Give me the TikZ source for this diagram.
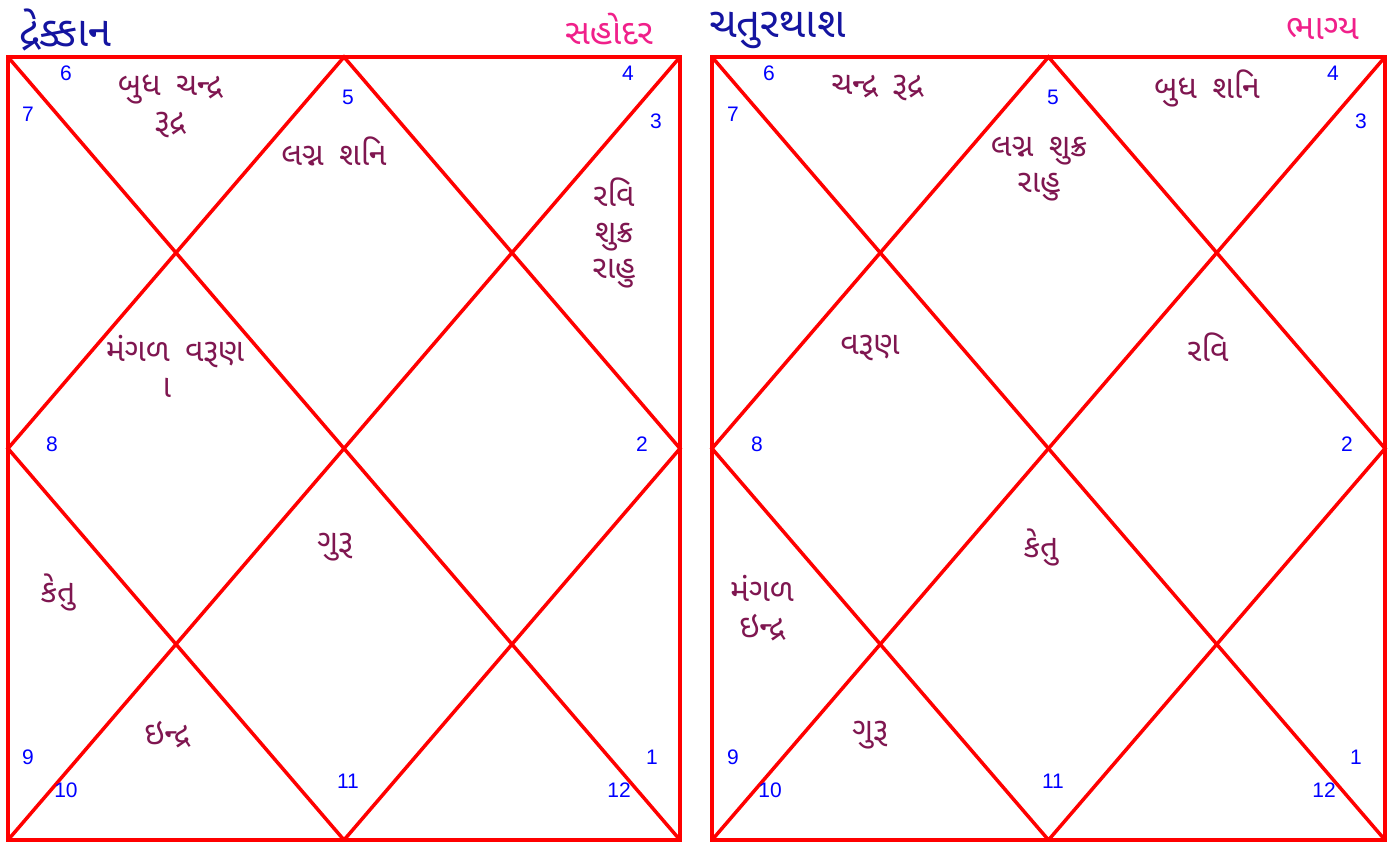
\documentclass[tikz,border=0pt]{standalone}
\usepackage{fontspec}
\usetikzlibrary{calc}
\setmainfont{Liberation Sans}
\newfontfamily\guj[Script=Gujarati,WordSpace=1.6]{Noto Sans Gujarati UI}
\definecolor{numblue}{HTML}{0000FF}
\definecolor{planetc}{HTML}{7F1650}
\definecolor{titleblue}{HTML}{1414A0}
\definecolor{titlepink}{HTML}{F0208A}
\begin{document}
\begin{tikzpicture}[x=1pt,y=-1pt,
  chartline/.style={draw=red,line width=3.5pt,line join=miter,line cap=round},
  num/.style={text=numblue,font=\fontsize{21}{21}\selectfont,inner sep=0pt},
  planet/.style={text=planetc,font=\guj\fontsize{32}{36}\selectfont,align=center,inner sep=0pt},
  ttlblue/.style={text=titleblue,font=\guj\fontsize{42}{42}\selectfont,inner sep=0pt,anchor=west},
  ttlpink/.style={text=titlepink,font=\guj\fontsize{35}{35}\selectfont,inner sep=0pt,anchor=east}]
\useasboundingbox (0,0) rectangle (1395,841);
% chart frames
\foreach \n/\xa/\xb in {L/8/680, R/712/1385}{
  \coordinate (\n tl) at (\xa,57);
  \coordinate (\n tr) at (\xb,57);
  \coordinate (\n br) at (\xb,840);
  \coordinate (\n bl) at (\xa,840);
  \coordinate (\n tm) at ($(\n tl)!0.5!(\n tr)$);
  \coordinate (\n bm) at ($(\n bl)!0.5!(\n br)$);
  \coordinate (\n lm) at ($(\n tl)!0.5!(\n bl)$);
  \coordinate (\n rm) at ($(\n tr)!0.5!(\n br)$);
  \draw[chartline] (\n tl) -- (\n tr) -- (\n br) -- (\n bl) -- cycle;
  \draw[chartline] (\n tl) -- (\n br);
  \draw[chartline] (\n tr) -- (\n bl);
  \draw[chartline] (\n tm) -- (\n rm) -- (\n bm) -- (\n lm) -- cycle;
}
% titles
\node[ttlblue] (t1) at (19,30) {દ્રેક્કાન};
\node[ttlpink] (t2) at (653,29) {સહોદર};
\node[ttlblue] (t3) at (709,30) {ચતુરથાશ};
\node[ttlpink] (t4) at (1359,29) {ભાગ્ય};
% house numbers, left chart
\node[num] (l6) at (66,73) {6};
\node[num] (l7) at (28,114) {7};
\node[num] (l5) at (348,97) {5};
\node[num] (l4) at (628,73) {4};
\node[num] (l3) at (656,121) {3};
\node[num] (l8) at (52,444) {8};
\node[num] (l2) at (642,444) {2};
\node[num] (l9) at (28,757) {9};
\node[num] (l10) at (66,790) {10};
\node[num] (l11) at (348,781) {11};
\node[num] (l12) at (619,790) {12};
\node[num] (l1) at (652,757) {1};
% house numbers, right chart
\node[num] (r6) at (769,73) {6};
\node[num] (r7) at (733,114) {7};
\node[num] (r5) at (1053,97) {5};
\node[num] (r4) at (1333,73) {4};
\node[num] (r3) at (1361,121) {3};
\node[num] (r8) at (757,444) {8};
\node[num] (r2) at (1347,444) {2};
\node[num] (r9) at (733,757) {9};
\node[num] (r10) at (770,790) {10};
\node[num] (r11) at (1053,781) {11};
\node[num] (r12) at (1324,790) {12};
\node[num] (r1) at (1356,757) {1};
% planets, left chart
\node[planet] (lp6) at (170,106) {બુધ ચન્દ્ર\\રૂદ્ર};
\node[planet] (lp5) at (334,151) {લગ્ન શનિ};
\node[planet] (lp3) at (614,233) {રવિ\\શુક્ર\\રાહુ};
\node[planet] (lp7) at (175,366) {મંગળ વરૂણ\\\hspace*{-26pt}\char"00A0ા};
\node[planet] (lp9) at (58,592) {કેતુ};
\node[planet] (lp11) at (335,547) {ગુરૂ};
\node[planet] (lp10) at (167,735) {ઇન્દ્ર};
% planets, right chart
\node[planet] (rp6) at (877,88) {ચન્દ્ર રૂદ્ર};
\node[planet] (rp5) at (1039,169) {લગ્ન શુક્ર\\રાહુ};
\node[planet] (rp4) at (1207,88) {બુધ શનિ};
\node[planet] (rp7) at (870,348) {વરૂણ};
\node[planet] (rp3) at (1208,347) {રવિ};
\node[planet] (rp1) at (1041,547) {કેતુ};
\node[planet] (rp9) at (762,608) {મંગળ\\ઇન્દ્ર};
\node[planet] (rp10) at (870,735) {ગુરૂ};
\end{tikzpicture}
\end{document}
